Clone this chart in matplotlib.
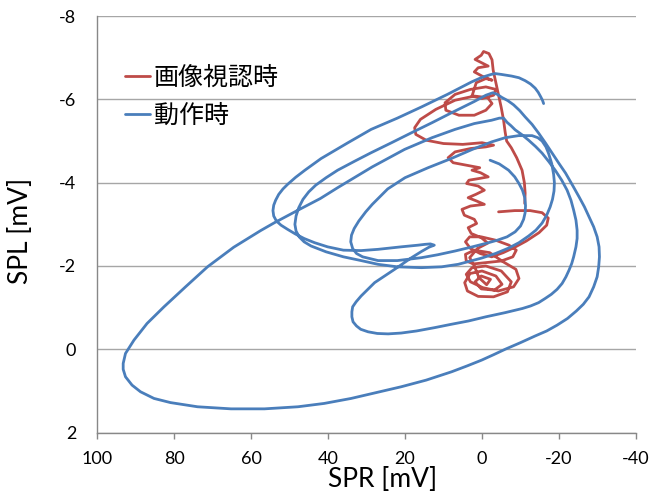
import numpy as np
import matplotlib
matplotlib.use("Agg")
import matplotlib.pyplot as plt

plt.rcParams['font.family'] = ['Lato', 'Noto Sans CJK JP', 'DejaVu Sans']
plt.rcParams['axes.unicode_minus'] = False

# 動作時 (blue), in drawing order, one list per stretch
motion_inner = [
    (-2.1, -4.54), (-4.5, -4.45), (-6.9, -4.30), (-8.5, -4.14), (-9.6, -3.98), (-10.5, -3.82),
    (-11.1, -3.64), (-11.3, -3.45), (-11.2, -3.28), (-10.8, -3.12), (-10.0, -2.96), (-8.6, -2.82),
    (-6.5, -2.70), (-4.0, -2.62), (-1.7, -2.56), (2.5, -2.46), (7.0, -2.36), (11.5, -2.27),
    (15.7, -2.20), (22.0, -2.13), (27.0, -2.13), (31.0, -2.22), (32.6, -2.30), (33.6, -2.42),
    (34.1, -2.58), (33.9, -2.74), (33.2, -2.90), (32.0, -3.08), (30.2, -3.30), (28.5, -3.48),
    (24.5, -3.85), (20.0, -4.12), (14.0, -4.36), (8.0, -4.58), (2.5, -4.80), (-2.5, -4.98),
    (-6.0, -5.08), (-9.5, -5.13),
]
motion_loop2 = [
    (-13.0, -5.13), (-14.5, -5.08), (-15.6, -5.00), (-16.6, -4.86), (-17.3, -4.70), (-18.1, -4.46),
    (-18.6, -4.20), (-18.8, -4.00), (-18.7, -3.80), (-18.3, -3.60), (-17.7, -3.42), (-16.8, -3.22),
    (-15.6, -3.03), (-14.0, -2.86), (-12.1, -2.72), (-9.6, -2.56), (-6.9, -2.43), (-3.5, -2.30),
    (0.1, -2.19), (6.2, -2.04), (10.5, -1.98), (15.7, -1.96), (22.0, -1.98), (27.0, -2.04),
    (31.4, -2.13), (36.0, -2.22), (40.5, -2.34), (44.4, -2.48), (46.2, -2.58), (47.5, -2.70),
    (48.3, -2.84), (48.6, -3.00), (48.3, -3.20), (47.6, -3.40), (46.5, -3.60), (45.0, -3.78),
    (43.2, -3.94), (40.5, -4.12), (37.5, -4.30), (33.0, -4.52), (28.8, -4.72), (23.5, -4.96),
    (18.3, -5.20), (13.0, -5.44), (7.9, -5.68), (2.0, -5.95), (-1.0, -6.10),
]
motion_big = [
    (-2.8, -6.16), (-4.0, -6.12), (-5.1, -6.05), (-6.7, -5.97), (-8.2, -5.87), (-9.8, -5.73),
    (-11.2, -5.58), (-13.0, -5.40), (-14.7, -5.19), (-16.5, -4.95), (-18.2, -4.71), (-20.0, -4.46),
    (-21.7, -4.23), (-23.5, -3.94), (-25.2, -3.66), (-26.6, -3.42), (-27.8, -3.18), (-29.0, -2.94),
    (-29.9, -2.70), (-30.4, -2.46), (-30.5, -2.22), (-30.3, -1.98), (-29.9, -1.74), (-29.0, -1.50),
    (-27.8, -1.26), (-26.3, -1.08), (-24.5, -0.92), (-22.2, -0.74), (-19.5, -0.58), (-16.8, -0.44),
    (-13.8, -0.32), (-10.0, -0.16), (-6.0, 0.00), (-3.0, 0.13), (0.1, 0.26), (3.9, 0.40),
    (7.9, 0.54), (14.5, 0.74), (21.0, 0.90), (28.0, 1.05), (34.0, 1.18), (41.0, 1.30),
    (47.8, 1.38), (56.5, 1.43), (65.2, 1.43), (73.9, 1.38), (80.9, 1.28), (85.2, 1.18),
    (88.7, 1.02), (90.9, 0.86), (92.6, 0.66), (93.2, 0.48), (93.2, 0.34), (92.6, 0.10),
    (90.4, -0.22), (87.0, -0.62), (82.6, -1.02), (77.0, -1.50), (71.3, -1.98), (64.5, -2.45),
    (57.5, -2.85), (53.9, -3.04), (47.8, -3.34), (42.0, -3.62), (37.5, -3.88), (33.0, -4.13),
    (28.5, -4.38), (20.1, -4.80), (13.0, -5.08), (7.0, -5.28), (2.0, -5.42), (-2.5, -5.50),
    (-4.5, -5.55), (-5.6, -5.55),
]
motion_last = [
    (-6.5, -5.45), (-7.5, -5.37), (-8.6, -5.27), (-10.4, -5.15), (-12.1, -5.02), (-13.9, -4.87),
    (-15.6, -4.71), (-17.4, -4.50), (-19.0, -4.30), (-20.7, -4.06), (-22.1, -3.82), (-23.1, -3.58),
    (-23.8, -3.34), (-24.4, -3.10), (-24.7, -2.86), (-24.7, -2.66), (-24.4, -2.46), (-23.8, -2.22),
    (-23.3, -2.06), (-22.6, -1.90), (-21.8, -1.74), (-20.8, -1.58), (-19.5, -1.44), (-18.0, -1.32),
    (-16.4, -1.22), (-14.7, -1.12), (-12.6, -1.04), (-10.5, -0.98), (-8.2, -0.93), (-6.0, -0.88),
    (-1.0, -0.78), (3.5, -0.68), (8.0, -0.60), (12.3, -0.52), (17.0, -0.44), (21.0, -0.39),
    (24.4, -0.37), (27.2, -0.38), (29.6, -0.42), (31.5, -0.48), (32.6, -0.56), (33.5, -0.66),
    (33.8, -0.78), (33.8, -0.90), (33.6, -1.02), (32.7, -1.14), (31.4, -1.28), (27.9, -1.60),
    (22.7, -1.92), (18.3, -2.20), (15.7, -2.35), (13.8, -2.45), (12.4, -2.50), (13.4, -2.53),
    (14.8, -2.52), (16.6, -2.50), (21.0, -2.46), (27.0, -2.40), (31.4, -2.37), (36.0, -2.38),
    (40.1, -2.46), (43.5, -2.56), (46.2, -2.66), (48.5, -2.77), (50.5, -2.88), (52.2, -2.98),
    (53.4, -3.08), (54.1, -3.20), (54.3, -3.33), (54.1, -3.46), (53.6, -3.58), (52.8, -3.72),
    (51.7, -3.85), (50.5, -3.96), (48.4, -4.13), (46.0, -4.30), (41.8, -4.58), (35.0, -4.95),
    (28.8, -5.28), (22.0, -5.55), (15.7, -5.82), (9.0, -6.12), (2.7, -6.42), (0.5, -6.51),
    (-1.0, -6.56), (-2.4, -6.60), (-3.4, -6.62), (-5.0, -6.60), (-7.7, -6.56), (-9.6, -6.52),
    (-11.2, -6.45), (-12.6, -6.37), (-13.8, -6.27), (-14.6, -6.17), (-15.2, -6.07), (-15.7, -5.98),
    (-16.0, -5.90),
]

# 画像視認時 (red)
viewing_low = [
    (-4.3, -3.30), (-8.5, -3.33), (-12.5, -3.33), (-15.6, -3.28), (-17.2, -3.15), (-16.8, -2.98),
    (-14.8, -2.80), (-11.5, -2.60), (-8.5, -2.45), (-5.5, -2.32), (-2.5, -2.22), (0.5, -2.30),
    (3.0, -2.42), (4.3, -2.58), (3.2, -2.70), (0.2, -2.70), (-3.5, -2.62), (-7.0, -2.50),
    (-8.9, -2.38), (-8.0, -2.22), (-5.0, -2.12), (-1.0, -2.08), (2.2, -2.05), (4.1, -2.12),
    (4.3, -2.28), (2.0, -2.38), (-2.0, -2.32), (-5.5, -2.10), (-8.8, -1.92), (-9.6, -1.70),
    (-8.2, -1.50), (-4.2, -1.40), (-0.2, -1.48), (3.0, -1.62), (4.1, -1.80), (2.6, -1.96),
    (-1.0, -2.00), (-5.0, -1.88), (-7.6, -1.62), (-6.6, -1.38), (-3.0, -1.26), (1.0, -1.27),
    (3.8, -1.40), (4.5, -1.60), (3.1, -1.82), (0.0, -1.88), (-3.6, -1.76), (-5.2, -1.56),
    (-3.2, -1.42), (0.2, -1.45), (1.8, -1.62), (0.2, -1.76), (-2.2, -1.68), (-1.2, -1.55),
    (0.8, -1.72), (2.0, -2.00), (3.2, -2.20), (1.2, -2.42), (-1.5, -2.55), (0.2, -2.68),
    (2.8, -2.78),
]
viewing_mid = [
    (3.6, -2.92), (1.4, -3.02), (2.0, -3.12), (4.6, -3.22), (5.2, -3.36), (3.0, -3.44),
    (-0.6, -3.48), (1.4, -3.56), (3.6, -3.64), (1.6, -3.72), (-0.6, -3.82), (1.0, -3.92),
    (4.0, -3.98), (3.4, -4.06), (0.8, -4.10), (-1.6, -4.14), (0.4, -4.24), (2.6, -4.30),
    (0.6, -4.36), (4.0, -4.42), (7.5, -4.48), (8.8, -4.60), (7.0, -4.74), (3.0, -4.82),
    (-1.0, -4.86), (-3.0, -4.90),
]
viewing_top = [
    (0.0, -4.96), (5.0, -4.92), (10.0, -4.94), (14.5, -5.02), (17.2, -5.16), (17.5, -5.32),
    (16.0, -5.52), (12.0, -5.76), (7.0, -5.98), (2.0, -6.08), (-1.5, -6.04), (-2.6, -5.90),
    (-1.0, -5.74), (2.0, -5.62), (6.0, -5.62), (9.4, -5.74), (9.6, -5.92), (7.0, -6.12),
    (3.0, -6.24), (-1.0, -6.30), (-3.6, -6.24), (-3.0, -6.10), (0.0, -6.02), (2.6, -6.08),
    (1.5, -6.40), (-1.0, -6.50), (-2.6, -6.46), (0.0, -6.56), (2.0, -6.66), (1.0, -6.76),
    (-1.6, -6.80), (0.5, -6.90), (1.8, -6.96), (0.2, -7.06), (-0.4, -7.15), (-1.8, -7.10),
    (-2.6, -6.95), (-2.9, -6.70), (-3.6, -6.40), (-4.3, -6.10), (-5.0, -5.80), (-5.6, -5.50),
    (-6.0, -5.22), (-6.4, -5.00), (-7.6, -4.84), (-9.0, -4.60), (-10.4, -4.30), (-11.0, -4.00),
    (-11.2, -3.75), (-11.1, -3.50),
]

x_ticks = [100, 80, 60, 40, 20, 0, -20, -40]
y_ticks = [-8, -6, -4, -2, 0, 2]

motion = np.array(motion_inner + motion_loop2 + motion_big + motion_last)
viewing = np.array(viewing_low + viewing_mid + viewing_top)

fig = plt.figure(figsize=(6.51, 4.97), dpi=100)
ax = fig.add_axes([0.149, 0.1296, 0.828, 0.838])

ax.plot(viewing[:, 0], viewing[:, 1], color='#BE4B48', lw=2.0, solid_joinstyle='round',
        solid_capstyle='round', label='画像視認時', zorder=3)
ax.plot(motion[:, 0], motion[:, 1], color='#4A7EBB', lw=2.0, solid_joinstyle='round',
        solid_capstyle='round', label='動作時', zorder=4)

ax.set_xlim(100, -40)
ax.set_ylim(2, -8)
ax.set_xticks(x_ticks)
ax.set_yticks(y_ticks)
ax.yaxis.grid(True, color='#A6A6A6', lw=1.0)
ax.set_axisbelow(True)

for s in ['top', 'right']:
    ax.spines[s].set_visible(False)
for s in ['left', 'bottom']:
    ax.spines[s].set_color('#888888')
    ax.spines[s].set_linewidth(1.0)

ax.tick_params(axis='x', direction='out', length=4, width=1, color='#888888',
               labelsize=13, pad=9)
ax.tick_params(axis='y', length=0, labelsize=13, pad=15)

ax.set_xlabel('SPR [mV]', fontsize=19)
ax.set_ylabel('SPL [mV]', fontsize=19)
ax.xaxis.set_label_coords(0.529, -0.083)
ax.yaxis.set_label_coords(-0.118, 0.483)

ax.legend(loc='upper left', bbox_to_anchor=(0.052, 0.882), frameon=False,
          fontsize=18, handlelength=1.0, handletextpad=0.15, labelspacing=0.62,
          borderpad=0, borderaxespad=0)

fig.savefig('out.png', dpi=100)
